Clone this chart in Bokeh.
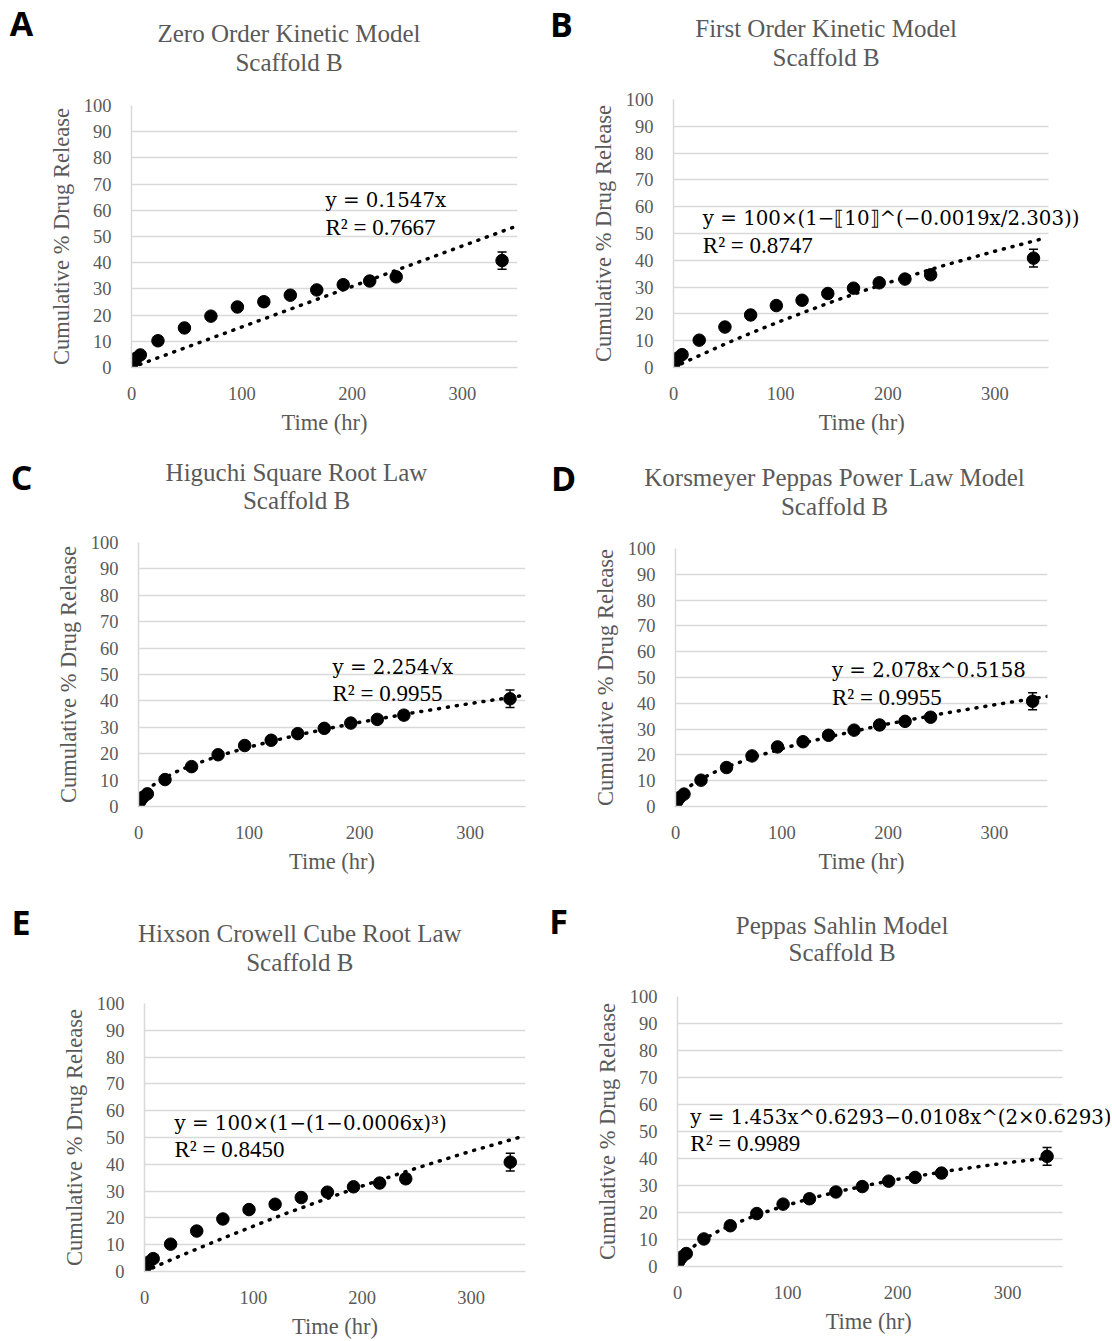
from bokeh.plotting import figure
from bokeh.layouts import column, row
from bokeh.models import Label, Whisker, ColumnDataSource, TeeHead, FixedTicker, Range1d, Grid
from bokeh.embed import file_html
from bokeh.resources import INLINE

# ---------------- data ----------------
time_hr = [1, 2, 4, 8, 24, 48, 72, 96, 120, 144, 168, 192, 216, 240, 336]
release_pct = [1.8, 2.5, 3.5, 4.8, 10.2, 15.1, 19.6, 23.1, 25.1, 27.6, 29.6, 31.6, 33.0, 34.6, 40.8]
release_sd = [0.3, 0.3, 0.4, 0.5, 0.6, 0.7, 0.8, 0.9, 1.0, 1.0, 1.1, 1.2, 1.3, 1.6, 3.3]

panel_letters = ["A", "B", "C", "D", "E", "F"]
model_names = ["Zero Order Kinetic Model", "First Order Kinetic Model",
               "Higuchi Square Root Law", "Korsmeyer Peppas Power Law Model",
               "Hixson Crowell Cube Root Law", "Peppas Sahlin Model"]
subtitle = "Scaffold B"
equations = ["y = 0.1547x",
             "y = 100×(1−⟦10⟧^(−0.0019x/2.303))",
             "y = 2.254√x",
             "y = 2.078x^0.5158",
             "y = 100×(1−(1−0.0006x)³)",
             "y = 1.453x^0.6293−0.0108x^(2×0.6293)"]
r_squared = ["R² = 0.7667", "R² = 0.8747", "R² = 0.9955",
             "R² = 0.9955", "R² = 0.8450", "R² = 0.9989"]

# trend lines
fit_x_A = [0, 350]
fit_y_A = [0, 54.1]
fit_x_B = [0, 10, 20, 35, 50, 75, 100, 125, 150, 175, 200, 250, 300, 345]
fit_y_B = [0, 1.9, 3.7, 6.4, 9.1, 13.3, 17.3, 21.1, 24.8, 28.3, 31.6, 37.8, 43.4, 48.1]
fit_x_C = [0, 0.5, 1, 2, 5, 10, 20, 35, 50, 75, 100, 125, 150, 175, 200, 250, 300, 350]
fit_y_C = [0, 1.6, 2.3, 3.2, 5.0, 7.1, 10.1, 13.3, 15.9, 19.5, 22.5, 25.2, 27.6, 29.8, 31.9, 35.6, 39.0, 42.2]
fit_x_D = [0, 0.5, 1, 2, 5, 10, 20, 35, 50, 75, 100, 125, 150, 175, 200, 250, 300, 350]
fit_y_D = [0, 1.45, 2.08, 2.97, 4.77, 6.82, 9.74, 13.0, 15.6, 19.3, 22.4, 25.1, 27.5, 29.8, 32.0, 35.9, 39.4, 42.7]
fit_x_E = [0, 10, 20, 35, 50, 75, 100, 125, 150, 175, 200, 250, 300, 350]
fit_y_E = [0, 1.8, 3.6, 6.2, 8.7, 12.9, 16.9, 20.9, 24.6, 28.3, 31.9, 38.6, 44.9, 50.7]
fit_x_F = [0, 0.5, 1, 2, 5, 10, 20, 35, 50, 75, 100, 125, 150, 175, 200, 250, 300, 345]
fit_y_F = [0, 0.93, 1.44, 2.22, 3.92, 5.99, 9.10, 12.67, 15.55, 19.52, 22.80, 25.62, 28.10, 30.30, 32.27, 35.66, 38.45, 40.57]
fits = [(fit_x_A, fit_y_A), (fit_x_B, fit_y_B), (fit_x_C, fit_y_C),
        (fit_x_D, fit_y_D), (fit_x_E, fit_y_E), (fit_x_F, fit_y_F)]

x_ticks = [0, 100, 200, 300]
y_ticks = [0, 10, 20, 30, 40, 50, 60, 70, 80, 90, 100]
x_title = "Time (hr)"
y_title = "Cumulative % Drug Release"

# ---------------- layout (page pixel positions) ----------------
COL_X = [0, 546]
COL_WS = [546, 566]
ROWS = [(0, 446, 76), (446, 442, 78), (888, 453, 90)]   # top, height, header height
# plot frame on the page: left, right(x=350), top(y=100), bottom(y=0)
FRAMES = [(131, 517, 105, 367), (673, 1048, 99, 367),
          (138, 525, 542, 806), (675, 1047, 548, 806),
          (144, 525, 1003, 1272), (677, 1062, 996, 1266)]
# frame right edge actually used (wider where the equation runs past x=350)
FRAME_EXT = [517, 1100, 525, 1047, 525, 1110]
TITLE_POS = [(288.5, 33, 62), (825.6, 28.3, 56.7), (296, 471.7, 500),
             (834, 476.7, 505.7), (299.3, 933.3, 961.7), (841.6, 925, 951.7)]
EQ_POS = [(325, 200, 227), (702.3, 218.3, 245), (332, 666.7, 693.3),
          (831.4, 670, 696.7), (174, 1123.3, 1150), (689.8, 1116.7, 1143.3)]
LETTER_POS = [(21, 22.5), (561, 23), (21, 476), (563, 477), (20.5, 921), (558, 920)]

GRAY = "#595959"
SERIF = "Liberation Serif"
XMAX, YMAX = 350, 100
AX_TITLE_PX = 22.5
HAS_CROSS = "cross_bounds" in Grid.properties()


def make_header(i):
    col = i % 2
    r = i // 2
    cx = COL_X[col]
    cw = COL_WS[col]
    ry, rh, hh = ROWS[r]
    h = figure(width=cw, height=hh, output_backend="svg", toolbar_location=None,
               x_range=Range1d(0, cw), y_range=Range1d(hh, 0),
               x_axis_type=None, y_axis_type=None,
               min_border_left=0, min_border_right=0, min_border_top=0, min_border_bottom=0,
               background_fill_color="white", border_fill_color="white")
    h.outline_line_color = None
    h.grid.visible = False
    tx, t1, t2 = TITLE_POS[i]
    for txt, yy in ((model_names[i], t1), (subtitle, t2)):
        h.add_layout(Label(x=tx - cx, y=yy - ry, text=txt, text_align="center",
                           text_baseline="middle", text_font=SERIF,
                           text_font_size="25px", text_color=GRAY))
    lx, ly = LETTER_POS[i]
    h.add_layout(Label(x=lx - cx, y=ly - ry, text=panel_letters[i], text_align="center",
                       text_baseline="middle", text_font="Open Sans",
                       text_font_style="bold", text_font_size="34px", text_color="black"))
    return h


def make_panel(i):
    col = i % 2
    r = i // 2
    cx = COL_X[col]
    cw = COL_WS[col]
    ry, rh, hh = ROWS[r]
    fl, fr, ft, fb = FRAMES[i]
    fr_ext = FRAME_EXT[i]
    ptop = ry + hh
    ph = rh - hh
    left = fl - cx
    right = cx + cw - fr_ext
    top = ft - ptop
    bottom = ry + rh - fb
    ppu = (fr - fl) / XMAX
    x_end = (fr_ext - fl) / ppu

    p = figure(width=cw, height=ph, output_backend="svg", toolbar_location=None,
               x_range=Range1d(0, x_end), y_range=Range1d(0, YMAX),
               min_border_left=left, min_border_right=right,
               min_border_top=top, min_border_bottom=bottom,
               background_fill_color="white", border_fill_color="white")
    p.outline_line_color = None
    p.xgrid.grid_line_color = None
    if HAS_CROSS:
        p.ygrid.grid_line_color = "#d9d9d9"
        p.ygrid.grid_line_width = 1.3
        p.ygrid.ticker = FixedTicker(ticks=y_ticks)
        p.ygrid.cross_bounds = (0, XMAX)
    else:
        p.ygrid.grid_line_color = None
        p.segment(x0=[0] * len(y_ticks), y0=y_ticks, x1=[XMAX] * len(y_ticks), y1=y_ticks,
                  line_color="#d9d9d9", line_width=1.3)

    for ax in (p.xaxis[0], p.yaxis[0]):
        ax.major_tick_line_color = None
        ax.minor_tick_line_color = None
        ax.axis_line_color = "#d9d9d9"
        ax.axis_line_width = 1.5
        ax.major_label_text_font = SERIF
        ax.major_label_text_font_size = "18.5px"
        ax.major_label_text_color = GRAY
        ax.axis_label_text_font = SERIF
        ax.axis_label_text_font_size = f"{AX_TITLE_PX}px"
        ax.axis_label_text_font_style = "normal"
        ax.axis_label_text_color = GRAY
    p.xaxis.ticker = FixedTicker(ticks=x_ticks)
    p.yaxis.ticker = FixedTicker(ticks=y_ticks)
    p.xaxis.bounds = (0, XMAX)
    p.yaxis.bounds = (0, YMAX)
    p.xaxis.major_label_standoff = 13
    p.yaxis.major_label_standoff = 14
    # the axis title is centred on the frame; pad it so it sits centred over 0..350
    pad = int(round((fr_ext - fr) / (0.25 * AX_TITLE_PX)))
    p.xaxis.axis_label = x_title + "\u00a0" * pad
    p.yaxis.axis_label = y_title
    p.xaxis.axis_label_standoff = 7
    p.yaxis.axis_label_standoff = 7

    def dx(px):
        return (px - fl) / ppu

    def dy(py):
        return (fb - py) / (fb - ft) * YMAX

    # data
    fx, fy = fits[i]
    p.line(fx, fy, line_color="black", line_width=3.5, line_dash="1 8", line_cap="round")
    src = ColumnDataSource(dict(
        t=time_hr, v=release_pct,
        up=[v + e for v, e in zip(release_pct, release_sd)],
        lo=[v - e for v, e in zip(release_pct, release_sd)]))
    p.add_layout(Whisker(base="t", upper="up", lower="lo", source=src, dimension="height",
                         line_color="black", line_width=1.5,
                         upper_head=TeeHead(size=9, line_color="black", line_width=1.5),
                         lower_head=TeeHead(size=9, line_color="black", line_width=1.5)))
    p.scatter("t", "v", source=src, size=12.5, color="black")

    ex, e1, e2 = EQ_POS[i]
    p.add_layout(Label(x=dx(ex), y=dy(e1), text=equations[i], text_align="left",
                       text_baseline="middle", text_font="DejaVu Serif",
                       text_font_size="19.8px", text_color="black"))
    p.add_layout(Label(x=dx(ex), y=dy(e2), text=r_squared[i], text_align="left",
                       text_baseline="middle", text_font=SERIF,
                       text_font_size="23px", text_color="black"))
    return p


cells = [column(row(make_header(i)), row(make_panel(i))) for i in range(6)]
layout = column(row(cells[0], cells[1]), row(cells[2], cells[3]), row(cells[4], cells[5]))

open("out.html", "w").write(file_html(layout, INLINE))
